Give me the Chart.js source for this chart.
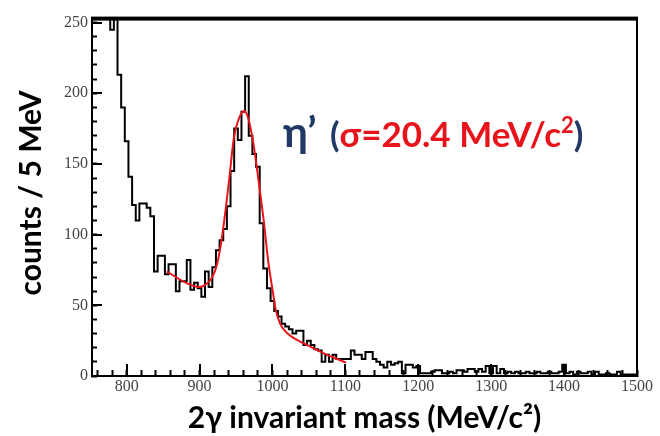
<!DOCTYPE html>
<html lang="en">
<head>
<meta charset="UTF-8">
<title>eta' in the 2 photon invariant mass</title>
<script src="https://cdn.jsdelivr.net/npm/chart.js"></script>
</head>
<body style="margin:0">
<canvas id="myChart" width="660" height="436"></canvas>
<script>
// histogram, 5 MeV bins; the first few bins are above the plotted range
const binStart = 752.5;
const binWidth = 5;
const counts = [
  330, 315, 300, 290, 275,
  245, 262, 213, 190, 166, 141, 121, 110, 122, 122, 119, 113,
  74, 85, 85, 72, 79, 79, 60, 67, 67, 82, 61, 66, 62, 56, 74, 63, 77, 89, 96, 104,
  120, 145, 175, 167, 187, 212, 170, 157, 148, 108, 76, 62, 53,
  46, 42, 37, 35, 33, 30, 32, 32, 22, 25, 22, 19, 18, 10, 15, 10, 15, 12, 12, 12,
  12, 18, 15, 15, 12, 17, 17, 12, 10, 8, 6, 10,
  8, 9, 10, 2, 8, 8, 6, 7, 2, 2, 2, 3, 4, 4, 2, 2, 3, 2, 4, 4,
  3, 5, 5, 3, 5, 3, 7, 2, 7, 2, 5, 2, 3, 2, 3, 2, 2, 3, 2, 2,
  3, 2, 2, 3, 2, 2, 3, 8, 2, 3, 1, 3, 2, 2, 3, 1, 3, 1, 1, 2,
  1, 1, 3, 1, 1, 1, 1, 1
];

// fitted curve (gaussian + background)
const fitMass  = [855, 869, 883, 899, 908, 917, 924, 931, 940, 947, 956, 961.5, 967, 974, 981, 988, 994.5, 1001, 1004, 1010.5, 1022, 1035.5, 1054, 1072, 1101];
const fitCount = [74, 69.5, 65.5, 63, 64.5, 69.5, 79, 99, 136, 168, 184.5, 187.5, 182, 164, 138, 110, 80, 58, 48, 37, 29.5, 25, 20.3, 15.7, 9.5];

// tick marks: every 20 MeV / 10 counts, labelled every 100 / 50
const xTickValues = [];
for (let v = 760; v <= 1500; v += 20) xTickValues.push(v);
const yTickValues = [];
for (let v = 0; v <= 250; v += 10) yTickValues.push(v);

// one point per left bin edge plus the closing right edge
const histPoints = counts.map((c, i) => ({ x: binStart + i * binWidth, y: c }));
histPoints.push({ x: binStart + counts.length * binWidth, y: counts[counts.length - 1] });
const fitPoints = fitMass.map((m, i) => ({ x: m, y: fitCount[i] }));

const navy = '#1f3864';
const red = '#e8141b';
const titleFont = 'Lato, "Open Sans", sans-serif';

const boxPlugin = {
  id: 'boxPlugin',
  afterDraw(chart) {
    const c = chart.ctx;
    const area = chart.chartArea;
    const xs = chart.scales.x;
    const ys = chart.scales.y;
    c.save();
    c.fillStyle = '#000';
    // longer major ticks
    for (let v = 800; v <= 1500; v += 100) {
      const tx = Math.round(xs.getPixelForValue(v));
      c.fillRect(tx - 1, area.bottom - 12, 2, 12);
    }
    for (let v = 0; v <= 250; v += 50) {
      const ty = Math.round(ys.getPixelForValue(v));
      c.fillRect(area.left, ty - 1, 10, 2);
    }
    // right and top side of the box
    c.fillRect(area.right - 1, area.top, 2, area.bottom - area.top);
    c.fillRect(area.left - 1, area.top - 2, area.right - area.left + 2, 4);

    c.textAlign = 'center';
    c.textBaseline = 'middle';
    c.save();
    c.translate(31, 193);
    c.rotate(-Math.PI / 2);
    c.font = 'bold 30px ' + titleFont;
    c.fillText('counts / 5 MeV', 0, 0);
    c.restore();

    c.font = 'bold 30px ' + titleFont;
    c.fillText('2\u03b3 invariant mass (MeV/c\u00b2)', (area.left + area.right) / 2, 418);

    c.textAlign = 'left';
    c.textBaseline = 'alphabetic';
    const base = 147;
    c.font = 'bold 42px ' + titleFont;
    c.fillStyle = navy;
    c.fillText('\u03b7\u2019', 283, base);
    let cx = 330;
    const parts = [
      ['(', navy, 'bold 35px ', 0],
      ['\u03c3=20.4 MeV/c', red, 'bold 35px ', 0],
      ['2', red, 'bold 22px ', -14],
      [')', navy, 'bold 35px ', 0]
    ];
    for (const [txt, col, f, dy] of parts) {
      c.font = f + titleFont;
      c.fillStyle = col;
      c.fillText(txt, cx, base + dy);
      cx += c.measureText(txt).width;
    }
    c.restore();
  }
};

new Chart(document.getElementById('myChart').getContext('2d'), {
  type: 'line',
  data: {
    datasets: [
      {
        data: fitPoints,
        borderColor: red,
        borderWidth: 2,
        pointRadius: 0,
        cubicInterpolationMode: 'monotone',
        order: 0
      },
      {
        data: histPoints,
        borderColor: '#000',
        borderWidth: 2,
        pointRadius: 0,
        stepped: 'before',
        order: 1
      }
    ]
  },
  options: {
    responsive: false,
    animation: false,
    devicePixelRatio: 1,
    layout: { padding: { top: 12, right: 23, left: 0, bottom: 0 } },
    plugins: {
      legend: { display: false },
      tooltip: { enabled: false }
    },
    scales: {
      x: {
        type: 'linear',
        min: 752.5,
        max: 1500,
        afterBuildTicks: s => { s.ticks = xTickValues.map(v => ({ value: v })); },
        afterFit: s => { s.height = 60; },
        grid: {
          display: true,
          drawOnChartArea: false,
          drawTicks: true,
          tickLength: -6,
          tickWidth: 2,
          tickColor: '#000'
        },
        border: { display: true, color: '#000', width: 2 },
        ticks: {
          color: '#444',
          font: { family: '"Liberation Serif"', size: 16 },
          padding: 7,
          maxRotation: 0,
          autoSkip: false,
          callback: v => (v % 100 === 0 ? String(v) : '')
        }
      },
      y: {
        type: 'linear',
        min: 0,
        max: 252.8,
        afterBuildTicks: s => { s.ticks = yTickValues.map(v => ({ value: v })); },
        afterFit: s => { s.width = 92; },
        grid: {
          display: true,
          drawOnChartArea: false,
          drawTicks: true,
          tickLength: -5,
          tickWidth: 2,
          tickColor: '#000'
        },
        border: { display: true, color: '#000', width: 2 },
        ticks: {
          color: '#444',
          font: { family: '"Liberation Serif"', size: 16 },
          padding: 9,
          autoSkip: false,
          callback: v => (v % 50 === 0 ? String(v) : '')
        }
      }
    }
  },
  plugins: [boxPlugin]
});
</script>
</body>
</html>
